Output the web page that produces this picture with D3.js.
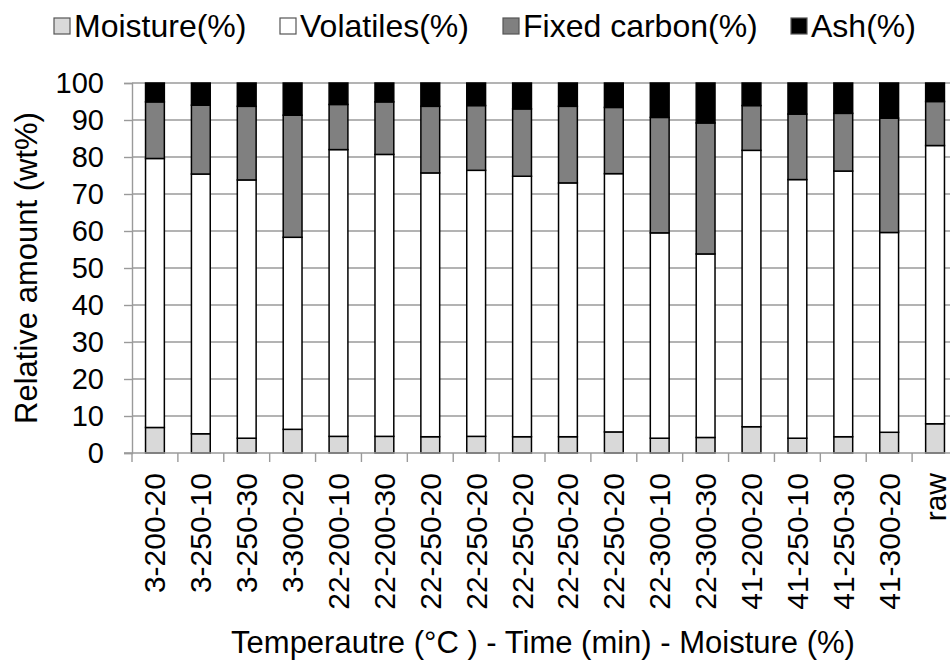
<!DOCTYPE html>
<html>
<head>
<meta charset="utf-8">
<script src="https://cdn.jsdelivr.net/npm/d3@7"></script>
<style>
  body { margin: 0; background: #fff; }
  svg { display: block; overflow: hidden; }
  text { font-family: "Liberation Sans", Arial, sans-serif; fill: #000; }
</style>
</head>
<body>
<div id="chart"></div>
<script>
// data
const categories = ['3-200-20', '3-250-10', '3-250-30', '3-300-20', '22-200-10', '22-200-30',
  '22-250-20', '22-250-20', '22-250-20', '22-250-20', '22-250-20', '22-300-10', '22-300-30',
  '41-200-20', '41-250-10', '41-250-30', '41-300-20', 'raw'];
const moisture = [6.9, 5.2, 4.0, 6.4, 4.5, 4.5, 4.4, 4.5, 4.4, 4.4, 5.7, 4.0, 4.2, 7.1, 4.0, 4.4, 5.6, 7.9];
const volatiles = [72.7, 70.2, 69.8, 51.9, 77.5, 76.2, 71.3, 71.9, 70.4, 68.6, 69.8, 55.5, 49.6, 74.7, 69.9, 71.8, 54.0, 75.2];
const fixedCarbon = [15.3, 18.6, 19.9, 33.0, 12.2, 14.2, 18.0, 17.5, 18.2, 20.7, 17.9, 31.2, 35.4, 12.1, 17.7, 15.6, 30.9, 11.9];
const ash = [5.1, 6.0, 6.3, 8.7, 5.8, 5.1, 6.3, 6.1, 7.0, 6.3, 6.6, 9.3, 10.8, 6.1, 8.4, 8.2, 9.5, 5.0];
const seriesNames = ['Moisture(%)', 'Volatiles(%)', 'Fixed carbon(%)', 'Ash(%)'];
const seriesColors = ['#d9d9d9', '#ffffff', '#808080', '#000000'];
const yTicks = [0, 10, 20, 30, 40, 50, 60, 70, 80, 90, 100];

const width = 950, height = 664;
const margin = {top: 83, left: 132, bottom: 211};
const plotW = 826; // runs past the right edge, as in the picture

const svg = d3.select('#chart').append('svg')
    .attr('width', width)
    .attr('height', height);

const rows = categories.map((c, i) => ({
  idx: i,
  'Moisture(%)': moisture[i],
  'Volatiles(%)': volatiles[i],
  'Fixed carbon(%)': fixedCarbon[i],
  'Ash(%)': ash[i]
}));

const x = d3.scaleBand()
    .domain(d3.range(categories.length))
    .range([margin.left, margin.left + plotW]);

const y = d3.scaleLinear()
    .domain([0, 100])
    .range([height - margin.bottom, margin.top]);

const color = d3.scaleOrdinal().domain(seriesNames).range(seriesColors);

// gridlines
svg.append('g')
  .selectAll('line')
  .data(yTicks.filter(d => d > 0))
  .join('line')
    .attr('x1', margin.left)
    .attr('x2', margin.left + plotW)
    .attr('y1', d => y(d))
    .attr('y2', d => y(d))
    .attr('stroke', '#9a9a9a')
    .attr('stroke-width', 1.4);

// bars
const stacked = d3.stack().keys(seriesNames)(rows);
const barW = x.bandwidth() * 0.41;

svg.append('g')
  .selectAll('g')
  .data(stacked)
  .join('g')
    .attr('fill', d => color(d.key))
  .selectAll('rect')
  .data(d => d)
  .join('rect')
    .attr('x', d => x(d.data.idx) + (x.bandwidth() - barW) / 2)
    .attr('width', barW)
    .attr('y', d => y(d[1]))
    .attr('height', d => y(d[0]) - y(d[1]))
    .attr('stroke', '#000')
    .attr('stroke-width', 1.5);

// y axis
const yAxis = d3.axisLeft(y).tickValues(yTicks).tickSize(8).tickPadding(20);
const yAxisG = svg.append('g')
    .attr('transform', `translate(${margin.left},0)`)
    .call(yAxis);
yAxisG.select('.domain').attr('stroke', '#9a9a9a').attr('stroke-width', 1.4);
yAxisG.selectAll('.tick line').attr('stroke', '#9a9a9a').attr('stroke-width', 1.4);
yAxisG.selectAll('.tick text')
    .attr('font-size', 29)
    .attr('font-family', '"Liberation Sans", Arial, sans-serif');

// x axis: ticks sit on the category boundaries
const xAxisG = svg.append('g')
    .attr('transform', `translate(0,${y(0)})`);
xAxisG.append('line')
    .attr('x1', margin.left - 8)
    .attr('x2', margin.left + plotW)
    .attr('stroke', '#9a9a9a')
    .attr('stroke-width', 1.4);
xAxisG.selectAll('.xtick')
  .data(d3.range(categories.length + 1))
  .join('line')
    .attr('class', 'xtick')
    .attr('x1', i => margin.left + i * x.step())
    .attr('x2', i => margin.left + i * x.step())
    .attr('y1', 0)
    .attr('y2', 9)
    .attr('stroke', '#9a9a9a')
    .attr('stroke-width', 1.4);
xAxisG.selectAll('.xlabel')
  .data(categories)
  .join('text')
    .attr('class', 'xlabel')
    .attr('transform', (d, i) => `translate(${x(i) + x.bandwidth() / 2},20) rotate(-90)`)
    .attr('text-anchor', 'end')
    .attr('dy', '0.35em')
    .attr('font-size', 30)
    .text(d => d);

// axis titles
svg.append('text')
    .attr('transform', `translate(37,${(y(0) + y(100)) / 2}) rotate(-90)`)
    .attr('text-anchor', 'middle')
    .attr('font-size', 31)
    .text('Relative amount (wt%)');

svg.append('text')
    .attr('x', 543)
    .attr('y', 653)
    .attr('text-anchor', 'middle')
    .attr('font-size', 31)
    .text('Temperautre (°C ) - Time (min) - Moisture (%)');

// legend
const legendX = [54, 280, 503, 791];
const legend = svg.append('g')
  .selectAll('g')
  .data(seriesNames)
  .join('g')
    .attr('transform', (d, i) => `translate(${legendX[i]},18)`);
legend.append('rect')
    .attr('width', 16)
    .attr('height', 16)
    .attr('fill', d => color(d))
    .attr('stroke', '#555')
    .attr('stroke-width', 1.2);
legend.append('text')
    .attr('x', 20)
    .attr('y', 8)
    .attr('dy', '0.35em')
    .attr('font-size', 32)
    .text(d => d);
</script>
</body>
</html>
